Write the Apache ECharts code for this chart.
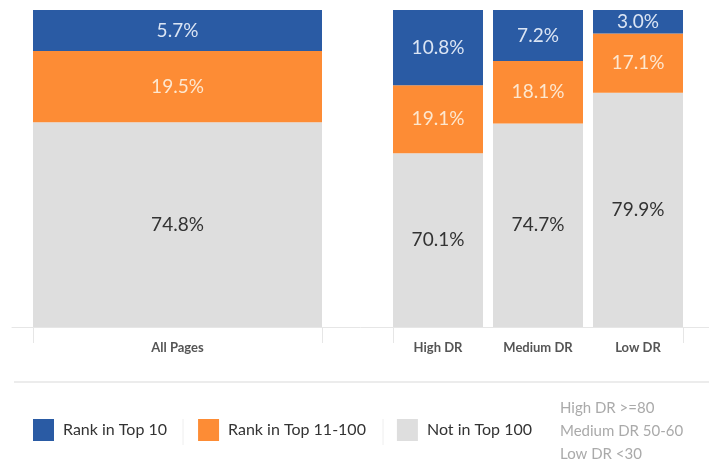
<!DOCTYPE html>
<html><head><meta charset="utf-8">
<script src="https://cdn.jsdelivr.net/npm/echarts@6/dist/echarts.min.js"></script>
<style>html,body{margin:0;padding:0;background:#fff}#c{width:709px;height:459px}</style>
</head><body><div id="c"></div>
<script>
// Categories
var categoriesAll = ['All Pages'];
var categoriesDR = ['High DR', 'Medium DR', 'Low DR'];
// Printed labels (as shown on the picture)
var top10LabelsAll = ['5.7%'];
var top11LabelsAll = ['19.5%'];
var notTopLabelsAll = ['74.8%'];
var top10LabelsDR = ['10.8%', '7.2%', '3.0%'];
var top11LabelsDR = ['19.1%', '18.1%', '17.1%'];
var notTopLabelsDR = ['70.1%', '74.7%', '79.9%'];
// Segment heights as drawn (share of each bar's height)
var top10All = [12.9];
var top11All = [22.5];
var notTopAll = [64.6];
var top10DR = [23.7, 16.1, 7.4];
var top11DR = [21.5, 19.7, 18.7];
var notTopDR = [54.8, 64.2, 73.9];
// Legend / notes text
var legendNames = ['Rank in Top 10', 'Rank in Top 11-100', 'Not in Top 100'];
var drNotes = ['High DR >=80', 'Medium DR 50-60', 'Low DR <30'];

var BLUE = '#2a5ba4', ORANGE = '#fd8c35', GRAY = '#dedede';
var FONT = 'Lato';

function lab(arr, color) {
  return {
    show: true, position: 'inside', color: color, fontFamily: FONT, fontSize: 19,
    formatter: function (p) { return arr[p.dataIndex]; }
  };
}
function mk(name, data, color, labels, labColor, idx) {
  return {
    name: name, type: 'bar', stack: 's' + idx, data: data,
    xAxisIndex: idx, yAxisIndex: idx,
    barWidth: idx === 0 ? '100%' : 90,
    itemStyle: { color: color },
    label: lab(labels, labColor),
    emphasis: { disabled: true }
  };
}
var lineCol = '#e6e6e6';
var catLabel = { color: '#555', fontSize: 13, fontWeight: 'bold', margin: 14, fontFamily: FONT };
var option = {
  animation: false,
  textStyle: { fontFamily: FONT },
  grid: [
    { left: 33, width: 289, top: 10, height: 317 },
    { left: 388, width: 300, top: 10, height: 317 },
    { left: 12, right: 0, top: 10, height: 317 },
    { left: 393, width: 290, top: 10, height: 317 }
  ],
  xAxis: [
    { type: 'category', gridIndex: 0, data: categoriesAll,
      axisLine: { show: false },
      axisTick: { show: true, length: 16, lineStyle: { color: lineCol } },
      axisLabel: catLabel },
    { type: 'category', gridIndex: 1, data: categoriesDR,
      axisLine: { show: false }, axisTick: { show: false },
      axisLabel: catLabel },
    { type: 'category', gridIndex: 2, data: [''],
      axisLine: { show: true, lineStyle: { color: lineCol, width: 1 } },
      axisTick: { show: false }, axisLabel: { show: false } },
    { type: 'category', gridIndex: 3, data: [''],
      axisLine: { show: false },
      axisTick: { show: true, length: 16, lineStyle: { color: lineCol } },
      axisLabel: { show: false } }
  ],
  yAxis: [0, 1, 2, 3].map(function (i) {
    return { type: 'value', gridIndex: i, min: 0, max: 100, show: false };
  }),
  legend: {
    data: legendNames.map(function (n) { return { name: n, icon: 'rect' }; }),
    left: 33, top: 419, padding: 0, itemWidth: 21, itemHeight: 22, itemGap: 31,
    textStyle: { color: '#333', fontSize: 16, fontFamily: FONT, padding: [0, 0, 0, 4] },
    selectedMode: false
  },
  title: {
    text: drNotes.join('\n'), left: 555, top: 392,
    textStyle: { color: '#aaa', fontSize: 15, fontWeight: 'normal', lineHeight: 23, fontFamily: FONT }
  },
  graphic: [
    { type: 'line', shape: { x1: 14, y1: 382, x2: 709, y2: 382 }, style: { stroke: '#ececec', lineWidth: 2 } },
    { type: 'line', shape: { x1: 183, y1: 419, x2: 183, y2: 445 }, style: { stroke: '#eeeeee', lineWidth: 1 } },
    { type: 'line', shape: { x1: 383, y1: 419, x2: 383, y2: 445 }, style: { stroke: '#eeeeee', lineWidth: 1 } }
  ],
  series: [
    mk(legendNames[2], notTopAll, GRAY, notTopLabelsAll, '#333', 0),
    mk(legendNames[1], top11All, ORANGE, top11LabelsAll, '#fde7cf', 0),
    mk(legendNames[0], top10All, BLUE, top10LabelsAll, '#dbe5f4', 0),
    mk(legendNames[2], notTopDR, GRAY, notTopLabelsDR, '#333', 1),
    mk(legendNames[1], top11DR, ORANGE, top11LabelsDR, '#fde7cf', 1),
    mk(legendNames[0], top10DR, BLUE, top10LabelsDR, '#dbe5f4', 1)
  ]
};
echarts.init(document.getElementById('c'), null, { renderer: 'canvas' }).setOption(option);
</script></body></html>
